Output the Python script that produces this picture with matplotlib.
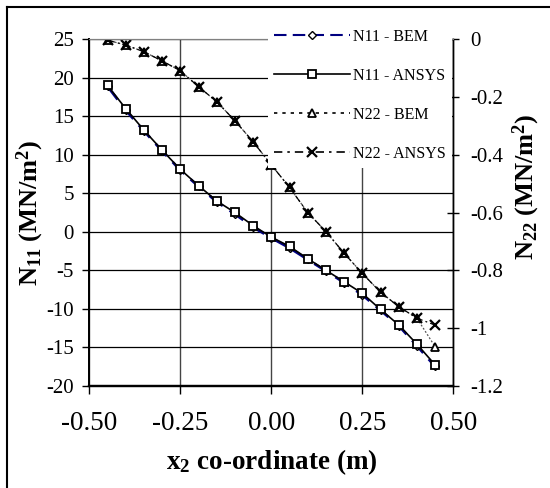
import matplotlib
matplotlib.use("Agg")
import matplotlib.pyplot as plt
from matplotlib.lines import Line2D

plt.rcParams['font.family'] = ['Liberation Serif', 'DejaVu Serif']
plt.rcParams['mathtext.fontset'] = 'custom'
plt.rcParams['mathtext.rm'] = 'Liberation Serif'
plt.rcParams['mathtext.bf'] = 'Liberation Serif:bold'
plt.rcParams['mathtext.it'] = 'Liberation Serif:italic'
plt.rcParams['axes.unicode_minus'] = False

# x2 co-ordinate (m)
x2 = [-0.45, -0.40, -0.35, -0.30, -0.25, -0.20, -0.15, -0.10, -0.05, 0.00,
      0.05, 0.10, 0.15, 0.20, 0.25, 0.30, 0.35, 0.40, 0.45]

# N11 (MN/m2)
n11_bem = [18.9, 15.8, 13.1, 10.5, 8.0, 5.9, 3.9, 2.3, 0.6, -0.8,
           -2.1, -3.6, -5.1, -6.6, -8.2, -10.2, -12.2, -14.8, -17.5]
n11_ansys = [19.0, 16.0, 13.2, 10.6, 8.1, 6.0, 4.0, 2.5, 0.8, -0.7,
             -1.9, -3.5, -5.0, -6.5, -8.0, -10.1, -12.1, -14.6, -17.3]

# N22 (MN/m2)
n22_bem = [-0.003, -0.02, -0.043, -0.075, -0.109, -0.164, -0.216, -0.282, -0.355, -0.435,
           -0.513, -0.600, -0.666, -0.741, -0.811, -0.876, -0.926, -0.966, -1.065]
n22_ansys = [-0.003, -0.02, -0.043, -0.075, -0.109, -0.164, -0.216, -0.282, -0.355, -0.435,
             -0.513, -0.600, -0.666, -0.741, -0.811, -0.876, -0.926, -0.966, -0.990]

xticks = [-0.50, -0.25, 0.00, 0.25, 0.50]
yticks_left = [25, 20, 15, 10, 5, 0, -5, -10, -15, -20]
yticks_right = [0, -0.2, -0.4, -0.6, -0.8, -1, -1.2]

fig = plt.figure(figsize=(5.5, 4.88), dpi=100)
ax = fig.add_axes([89.3 / 550, 1 - 385.7 / 488, 364 / 550, 346.4 / 488])
ax2 = ax.twinx()

# outer frame (left and top edges only visible)
fig.add_artist(Line2D([7 / 550, 7 / 550], [0, 1 - 7 / 488], color='black', lw=1.5))
fig.add_artist(Line2D([7 / 550, 1], [1 - 7 / 488, 1 - 7 / 488], color='black', lw=1.5))

# N11 on left axis
ax.plot(x2, n11_bem, color='#000080', ls=(0, (6, 3)), lw=2.0, marker='D', ms=4,
        mfc='white', mec='black', mew=1.0, zorder=3)
ax.plot(x2, n11_ansys, color='black', ls='-', lw=1.2, marker='s', ms=6,
        mfc='white', mec='black', mew=1.3, zorder=4)

# N22 on right axis
ax2.plot(x2, n22_bem, color='#555555', ls=(0, (1.5, 1.5)), lw=0.9, marker='^', ms=6,
         mfc='white', mec='black', mew=1.3)
ax2.plot(x2, n22_ansys, color='black', ls=(0, (6, 2.5, 1.5, 2.5)), lw=0.9, marker='x',
         ms=6.5, mec='black', mew=1.6)

ax.set_xlim(-0.5, 0.5)
ax.set_ylim(-20, 25)
ax2.set_ylim(-1.2, 0)

ax.set_xticks(xticks)
ax.set_xticklabels(['%.2f' % v for v in xticks])
ax.set_yticks(yticks_left)
ax2.set_yticks(yticks_right)
ax2.set_yticklabels(['%g' % v for v in yticks_right])

ax.grid(axis='y', color='black', lw=0.9)
ax.grid(axis='x', color='#444444', lw=1.0)
ax.set_axisbelow(True)

ax.tick_params(axis='x', direction='out', length=6, width=1, labelsize=19.5, pad=12)
ax.tick_params(axis='y', direction='out', length=5, width=1, labelsize=15, pad=6)
ax2.tick_params(axis='y', direction='inout', length=9, width=1, labelsize=15, pad=8)

for a in (ax, ax2):
    a.spines['top'].set_color('#808080')
    a.spines['left'].set_linewidth(1.3)
    a.spines['bottom'].set_linewidth(1.6)
    a.spines['right'].set_linewidth(1.0)

ax.set_xlabel(r'$\mathbf{x_2}$ co-ordinate (m)', fontsize=19.5, fontweight='bold', labelpad=8)
ax.set_ylabel(r'$\mathbf{N_{11}\ (MN/m^2)}$', fontsize=19)
ax.yaxis.set_label_coords(-0.118, 0.5)
ax2.set_ylabel(r'$\mathbf{N_{22}\ (MN/m^2)}$', fontsize=19)
ax2.yaxis.set_label_coords(1.158, 0.575)

handles = [
    Line2D([], [], color='#000080', ls=(0, (6, 3)), lw=1.5, marker='D', ms=4,
           mfc='white', mec='black', mew=1.0),
    Line2D([], [], color='black', ls='-', lw=1.2, marker='s', ms=6,
           mfc='white', mec='black', mew=1.3),
    Line2D([], [], color='black', ls=(0, (2, 3)), lw=1.2, marker='^', ms=6,
           mfc='white', mec='black', mew=1.3),
    Line2D([], [], color='black', ls=(0, (5, 3, 1.5, 3)), lw=1.2, marker='x', ms=6.5,
           mec='black', mew=1.6),
]
labels = ['N11 - BEM', 'N11 - ANSYS', 'N22 - BEM', 'N22 - ANSYS']
leg = fig.legend(handles, labels, loc='upper left',
                 bbox_to_anchor=(268 / 550, 1 - 23 / 488), fontsize=11.5,
                 frameon=True, facecolor='white', edgecolor='none', framealpha=1,
                 fancybox=False, handlelength=4.8, handletextpad=0.2,
                 labelspacing=1.45, borderpad=0.35, borderaxespad=0)
leg.set_zorder(10)

fig.savefig('out.png', dpi=100)
